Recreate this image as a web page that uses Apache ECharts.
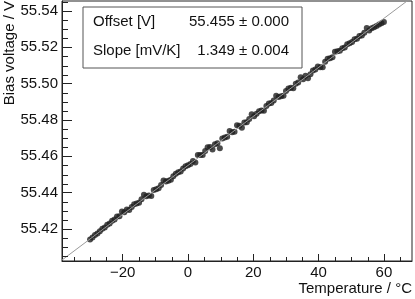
<!DOCTYPE html>
<html>
<head>
<meta charset="utf-8">
<script src="https://cdn.jsdelivr.net/npm/echarts@6/dist/echarts.min.js"></script>
<style>
html,body{margin:0;padding:0;background:#fff;}
#chart{width:415px;height:299px;}
</style>
</head>
<body>
<div id="chart"></div>
<script>
// Temperature (°C)
const temperatures = [
-30,-29.25,-28.5,-27.75,-27,-26.25,-25.5,-24.75,-24,-23.25,
-22.5,-21.75,-21,-20.25,-19.5,-18.75,-18,-17.25,-16.5,-15.75,
-15,-14.25,-13.5,-12.75,-12,-11.25,-10.5,-9.75,-9,-8.25,
-7.5,-6.75,-6,-5.25,-4.5,-3.75,-3,-2.25,-1.5,-0.75,
0,0.75,1.5,2.25,3,3.75,4.5,5.25,6,6.75,
7.5,8.25,9,9.75,10.5,11.25,12,12.75,13.5,14.25,
15,15.75,16.5,17.25,18,18.75,19.5,20.25,21,21.75,
22.5,23.25,24,24.75,25.5,26.25,27,27.75,28.5,29.25,
30,30.75,31.5,32.25,33,33.75,34.5,35.25,36,36.75,
37.5,38.25,39,39.75,40.5,41.25,42,42.75,43.5,44.25,
45,45.75,46.5,47.25,48,48.75,49.5,50.25,51,51.75,
52.5,53.25,54,54.75,55.5,56.25,57,57.75,58.5,59.25,60
];
// Bias voltage (V)
const voltages = [
55.4142,55.4153,55.4167,55.4175,55.4188,55.4201,55.4209,55.4224,55.4230,55.4246,
55.4253,55.4269,55.4270,55.4296,55.4292,55.4307,55.4305,55.4321,55.4336,55.4340,
55.4345,55.4364,55.4388,55.4381,55.4384,55.4382,55.4415,55.4419,55.4424,55.4442,
55.4467,55.4461,55.4466,55.4471,55.4490,55.4504,55.4512,55.4516,55.4533,55.4546,
55.4551,55.4558,55.4574,55.4566,55.4608,55.4607,55.4608,55.4629,55.4650,55.4651,
55.4637,55.4666,55.4672,55.4644,55.4698,55.4704,55.4708,55.4740,55.4733,55.4736,
55.4771,55.4769,55.4757,55.4786,55.4788,55.4805,55.4832,55.4820,55.4834,55.4848,
55.4852,55.4851,55.4877,55.4891,55.4893,55.4908,55.4933,55.4926,55.4931,55.4934,
55.4959,55.4974,55.4977,55.4975,55.5000,55.5006,55.5035,55.5024,55.5044,55.5030,
55.5052,55.5073,55.5078,55.5095,55.5091,55.5090,55.5121,55.5137,55.5140,55.5145,
55.5176,55.5178,55.5181,55.5195,55.5199,55.5217,55.5223,55.5230,55.5245,55.5247,
55.5262,55.5265,55.5280,55.5307,55.5293,55.5305,55.5310,55.5317,55.5325,55.5332,55.5339
];
// Fit parameters
const fitOffset = 55.455;      // V
const fitSlope = 1.349;        // mV/K
const fitLabels = ['Offset [V]', 'Slope [mV/K]'];
const fitValues = ['55.455 \u00b1 0.000', '1.349 \u00b1 0.004'];

// Axes
const xMin = -38.6, xMax = 68.6;
const yMin = 55.4024, yMax = 55.5455;
const xMajorTicks = [-20, 0, 20, 40, 60];
const xMinorTicks = [-35, -30, -25, -15, -10, -5, 5, 10, 15, 25, 30, 35, 45, 50, 55, 65];
const yMajorTicks = [55.42, 55.44, 55.46, 55.48, 55.50, 55.52, 55.54];
const yMinorTicks = [55.405, 55.41, 55.415, 55.425, 55.43, 55.435, 55.445, 55.45, 55.455,
  55.465, 55.47, 55.475, 55.485, 55.49, 55.495, 55.505, 55.51, 55.515, 55.525, 55.53, 55.535, 55.545];
const xTitle = 'Temperature / \u00b0C';
const yTitle = 'Bias voltage / V';

const FONT = 'Liberation Sans, Arial, Helvetica, sans-serif';
const points = temperatures.map((t, i) => [t, voltages[i]]);
const fitLine = [xMin, xMax].map(t => [t, fitOffset + fitSlope / 1000 * t]);

const chart = echarts.init(document.getElementById('chart'), null, {renderer: 'canvas'});
const axisLineStyle = {color: '#222', width: 1};
const baseGraphic = [
  {id: 'box', type: 'rect', shape: {x: 83, y: 7, width: 219, height: 61},
    style: {fill: '#fff', stroke: '#555', lineWidth: 1}, z: 10},
  {id: 't1', type: 'text', x: 93, y: 22, z: 11, style: {text: fitLabels[0], font: '15px ' + FONT, fill: '#111', textVerticalAlign: 'middle'}},
  {id: 't2', type: 'text', x: 93, y: 51, z: 11, style: {text: fitLabels[1], font: '15px ' + FONT, fill: '#111', textVerticalAlign: 'middle'}},
  {id: 't3', type: 'text', x: 289, y: 22, z: 11, style: {text: fitValues[0], font: '15px ' + FONT, fill: '#111', textAlign: 'right', textVerticalAlign: 'middle'}},
  {id: 't4', type: 'text', x: 289, y: 51, z: 11, style: {text: fitValues[1], font: '15px ' + FONT, fill: '#111', textAlign: 'right', textVerticalAlign: 'middle'}},
  {id: 'xt', type: 'text', x: 412, y: 289, z: 11, style: {text: xTitle, font: '15px ' + FONT, fill: '#111', textAlign: 'right', textVerticalAlign: 'middle'}},
  {id: 'yt', type: 'text', x: 10, y: 1, rotation: Math.PI / 2, z: 11, style: {text: yTitle, font: '15px ' + FONT, fill: '#111', textAlign: 'right', textVerticalAlign: 'middle'}}
];
chart.setOption({
  animation: false,
  backgroundColor: '#fff',
  grid: {left: 62, right: 3, top: 1, bottom: 38, show: true, borderColor: '#222', borderWidth: 1, containLabel: false},
  xAxis: {
    type: 'value', min: xMin, max: xMax, position: 'bottom',
    axisLine: {show: true, onZero: false, lineStyle: axisLineStyle},
    axisTick: {show: true, inside: true, length: 7, customValues: xMajorTicks, lineStyle: axisLineStyle},
    axisLabel: {customValues: xMajorTicks, margin: 4, fontSize: 15, fontFamily: FONT, color: '#111',
      formatter: v => (v < 0 ? '\u2212' + Math.abs(v) : String(v))},
    splitLine: {show: false}
  },
  yAxis: {
    type: 'value', min: yMin, max: yMax, position: 'left',
    axisLine: {show: true, onZero: false, lineStyle: axisLineStyle},
    axisTick: {show: true, inside: true, length: 10, customValues: yMajorTicks, lineStyle: axisLineStyle},
    axisLabel: {customValues: yMajorTicks, margin: 4, fontSize: 15, fontFamily: FONT, color: '#111',
      formatter: v => v.toFixed(2)},
    splitLine: {show: false}
  },
  series: [{
    type: 'scatter', data: points, symbol: 'circle', symbolSize: 6,
    itemStyle: {color: '#1e1e1e'}, z: 2
  }, {
    type: 'line', data: fitLine, symbol: 'none', clip: true,
    lineStyle: {color: '#9a9a9a', width: 1}, z: 3
  }],
  graphic: baseGraphic
});

// Minor ticks, placed through the axes' own scales
const finder = {xAxisIndex: 0, yAxisIndex: 0};
const minorGraphic = [];
xMinorTicks.forEach((v, i) => {
  const p = chart.convertToPixel(finder, [v, yMin]);
  const x = Math.round(p[0]) + 0.5, y = p[1];
  minorGraphic.push({id: 'xm' + i, type: 'line', silent: true, z: 5,
    shape: {x1: x, y1: y, x2: x, y2: y - 4}, style: {stroke: '#222', lineWidth: 1}});
});
yMinorTicks.forEach((v, i) => {
  const p = chart.convertToPixel(finder, [xMin, v]);
  const x = p[0], y = Math.round(p[1]) + 0.5;
  minorGraphic.push({id: 'ym' + i, type: 'line', silent: true, z: 5,
    shape: {x1: x, y1: y, x2: x + 6, y2: y}, style: {stroke: '#222', lineWidth: 1}});
});
chart.setOption({graphic: baseGraphic.concat(minorGraphic)});
</script>
</body>
</html>
